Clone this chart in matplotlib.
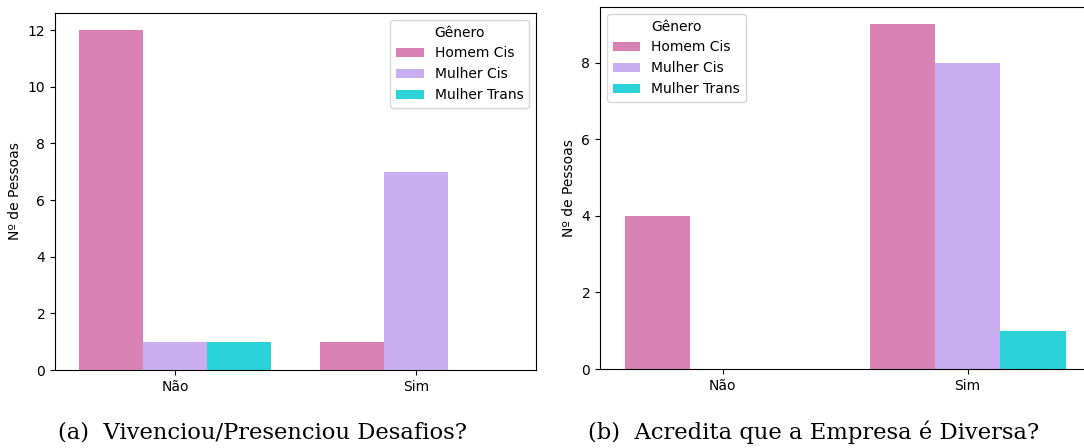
import numpy as np
import matplotlib.pyplot as plt

# Respostas por gênero
categorias = ["Não", "Sim"]
generos = ["Homem Cis", "Mulher Cis", "Mulher Trans"]
cores = ["#DA81B5", "#C9AFF1", "#2AD2DA"]

desafios = {
    "Homem Cis": [12, 1],
    "Mulher Cis": [1, 7],
    "Mulher Trans": [1, 0],
}
diversa = {
    "Homem Cis": [4, 9],
    "Mulher Cis": [0, 8],
    "Mulher Trans": [0, 1],
}

titulos = ["(a)  Vivenciou/Presenciou Desafios?",
           "(b)  Acredita que a Empresa é Diversa?"]

plt.rcParams['font.family'] = 'DejaVu Sans'

fig = plt.figure(figsize=(10.84, 4.48), dpi=100)
ax1 = fig.add_axes([55 / 1084, 78 / 448, 481 / 1084, 357 / 448])
ax2 = fig.add_axes([600 / 1084, 79 / 448, 490 / 1084, 362 / 448])


def barras(ax, dados, loc):
    x = np.arange(len(categorias))
    largura = 0.8 / len(generos)
    for i, (g, c) in enumerate(zip(generos, cores)):
        vals = dados[g]
        pos = x - 0.4 + largura * (i + 0.5)
        ax.bar(pos, vals, width=largura, color=c, label=g, linewidth=0)
    ax.set_xticks(x)
    ax.set_xticklabels(categorias, fontsize=10)
    ax.set_xlim(-0.5, len(categorias) - 0.5)
    topo = max(max(v) for v in dados.values())
    ax.set_ylim(0, topo * 1.05)
    ax.tick_params(axis='y', labelsize=10)
    ax.set_ylabel("Nº de Pessoas", fontsize=10)
    ax.set_xlabel("")
    leg = ax.legend(title="Gênero", loc=loc, fontsize=10, title_fontsize=10)
    return leg


barras(ax1, desafios, "upper right")
barras(ax2, diversa, "upper left")

fig.text(262 / 1084, 1 - 432 / 448, titulos[0], ha='center', va='center',
         fontsize=16.3, family='DejaVu Serif')
fig.text(814 / 1084, 1 - 432 / 448, titulos[1], ha='center', va='center',
         fontsize=16.3, family='DejaVu Serif')

plt.savefig("out.png", dpi=100)
plt.close()
